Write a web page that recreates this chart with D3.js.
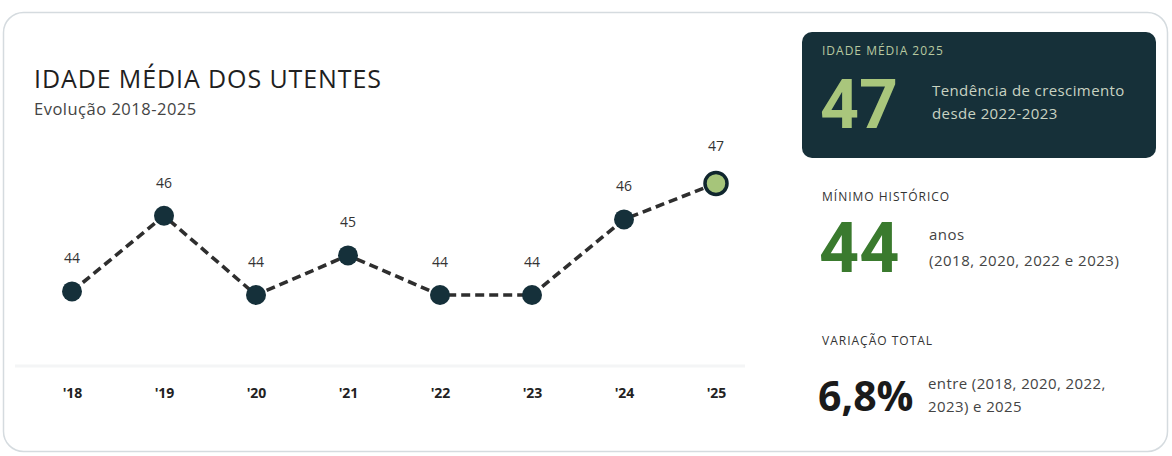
<!DOCTYPE html>
<html>
<head>
<meta charset="utf-8">
<script src="https://cdn.jsdelivr.net/npm/d3@7"></script>
<style>
  html, body { margin: 0; padding: 0; background: #ffffff; }
  svg { display: block; font-family: "Open Sans", "Noto Sans", sans-serif; }
</style>
</head>
<body>
<svg id="chart" width="1172" height="456"></svg>
<script>
// ---- data ----
const years = ["2018", "2019", "2020", "2021", "2022", "2023", "2024", "2025"];
const tickLabels = ["'18", "'19", "'20", "'21", "'22", "'23", "'24", "'25"];
const ages = [44.1, 46.2, 44.0, 45.1, 44.0, 44.0, 46.1, 47.1];
const yDomain = [43, 48];

const title = "IDADE MÉDIA DOS UTENTES";
const subtitle = "Evolução 2018-2025";

const kpi1Label = "IDADE MÉDIA 2025";
const kpi1Value = "47";
const kpi1Text = ["Tendência de crescimento", "desde 2022-2023"];
const kpi2Label = "MÍNIMO HISTÓRICO";
const kpi2Value = "44";
const kpi2Text = ["anos", "(2018, 2020, 2022 e 2023)"];
const kpi3Label = "VARIAÇÃO TOTAL";
const kpi3Value = "6,8%";
const kpi3Text = ["entre (2018, 2020, 2022,", "2023) e 2025"];

// ---- drawing ----
const svg = d3.select("#chart");

svg.append("rect")
  .attr("x", 3.5).attr("y", 12.5).attr("width", 1164).attr("height", 439)
  .attr("rx", 20).attr("fill", "#ffffff")
  .attr("stroke", "#d5dbdf").attr("stroke-width", 1.5);

svg.append("text").attr("x", 34).attr("y", 88)
  .attr("font-size", 25).attr("fill", "#1f1f1f").attr("letter-spacing", 0.9)
  .text(title);
svg.append("text").attr("x", 34).attr("y", 115)
  .attr("font-size", 16.5).attr("fill", "#444").attr("letter-spacing", 0.5).text(subtitle);

const x = d3.scalePoint().domain(years).range([72, 716]);
const y = d3.scaleLinear().domain(yDomain).range([331, 151]);

// faint baseline
svg.append("line").attr("x1", 15).attr("x2", 745).attr("y1", 366).attr("y2", 366)
  .attr("stroke", "#f4f5f6").attr("stroke-width", 3);

// x axis labels
const xAxis = d3.axisBottom(x).tickSize(0).tickFormat((d, i) => tickLabels[i]);
const gx = svg.append("g").attr("transform", "translate(0,385)").call(xAxis);
gx.select(".domain").remove();
gx.selectAll("text")
  .attr("font-family", "'Open Sans', sans-serif")
  .attr("font-size", 14).attr("font-weight", 700).attr("fill", "#222");

const data = years.map((yr, i) => ({ yr, v: ages[i] }));

svg.append("path").datum(data)
  .attr("fill", "none").attr("stroke", "#2e2e2e")
  .attr("stroke-width", 3.6).attr("stroke-dasharray", "9,5")
  .attr("d", d3.line().x(d => x(d.yr)).y(d => y(d.v)));

const last = data.length - 1;
svg.selectAll("circle.pt").data(data).join("circle")
  .attr("class", "pt")
  .attr("cx", d => x(d.yr)).attr("cy", d => y(d.v))
  .attr("r", (d, i) => i === last ? 11 : 10)
  .attr("fill", (d, i) => i === last ? "#a6c57a" : "#15303a")
  .attr("stroke", (d, i) => i === last ? "#10262e" : "none")
  .attr("stroke-width", 3.5);

svg.selectAll("text.val").data(data).join("text")
  .attr("class", "val")
  .attr("x", d => x(d.yr)).attr("y", (d, i) => y(d.v) - (i === last ? 32 : 28))
  .attr("text-anchor", "middle").attr("font-size", 14).attr("fill", "#333")
  .text(d => d3.format(".0f")(d.v));

// ---- right panel ----
const bigFont = "Roboto, 'Open Sans', sans-serif";
svg.append("rect").attr("x", 802).attr("y", 32).attr("width", 354).attr("height", 126)
  .attr("rx", 10).attr("fill", "#163039");
svg.append("text").attr("x", 822).attr("y", 55).attr("font-size", 12).attr("letter-spacing", 1)
  .attr("fill", "#b8c9a0").text(kpi1Label);
svg.append("text").attr("x", 820).attr("y", 128).attr("font-size", 68)
  .attr("font-family", bigFont)
  .attr("font-weight", 700).attr("fill", "#a9c67c").text(kpi1Value);
svg.selectAll("text.k1").data(kpi1Text).join("text").attr("class", "k1")
  .attr("x", 932).attr("y", (d, i) => 96 + i * 23)
  .attr("font-size", 15).attr("letter-spacing", 0.4).attr("fill", "#c9d3c2").text(d => d);

svg.append("text").attr("x", 822).attr("y", 201).attr("font-size", 12).attr("letter-spacing", 1)
  .attr("fill", "#333").text(kpi2Label);
svg.append("text").attr("x", 819).attr("y", 272).attr("font-size", 70)
  .attr("font-family", bigFont)
  .attr("font-weight", 700).attr("fill", "#3a7a2e").text(kpi2Value);
svg.selectAll("text.k2").data(kpi2Text).join("text").attr("class", "k2")
  .attr("x", 929).attr("y", (d, i) => 240 + i * 26)
  .attr("font-size", 15).attr("letter-spacing", 0.5).attr("fill", "#444").text(d => d);

svg.append("text").attr("x", 822).attr("y", 345).attr("font-size", 12).attr("letter-spacing", 1)
  .attr("fill", "#333").text(kpi3Label);
svg.append("text").attr("x", 818).attr("y", 411).attr("font-size", 41)
  .attr("font-weight", 700).attr("fill", "#1a1a1a").text(kpi3Value);
svg.selectAll("text.k3").data(kpi3Text).join("text").attr("class", "k3")
  .attr("x", 928).attr("y", (d, i) => 389 + i * 23)
  .attr("font-size", 15).attr("letter-spacing", 0.4).attr("fill", "#444").text(d => d);
</script>
</body>
</html>
